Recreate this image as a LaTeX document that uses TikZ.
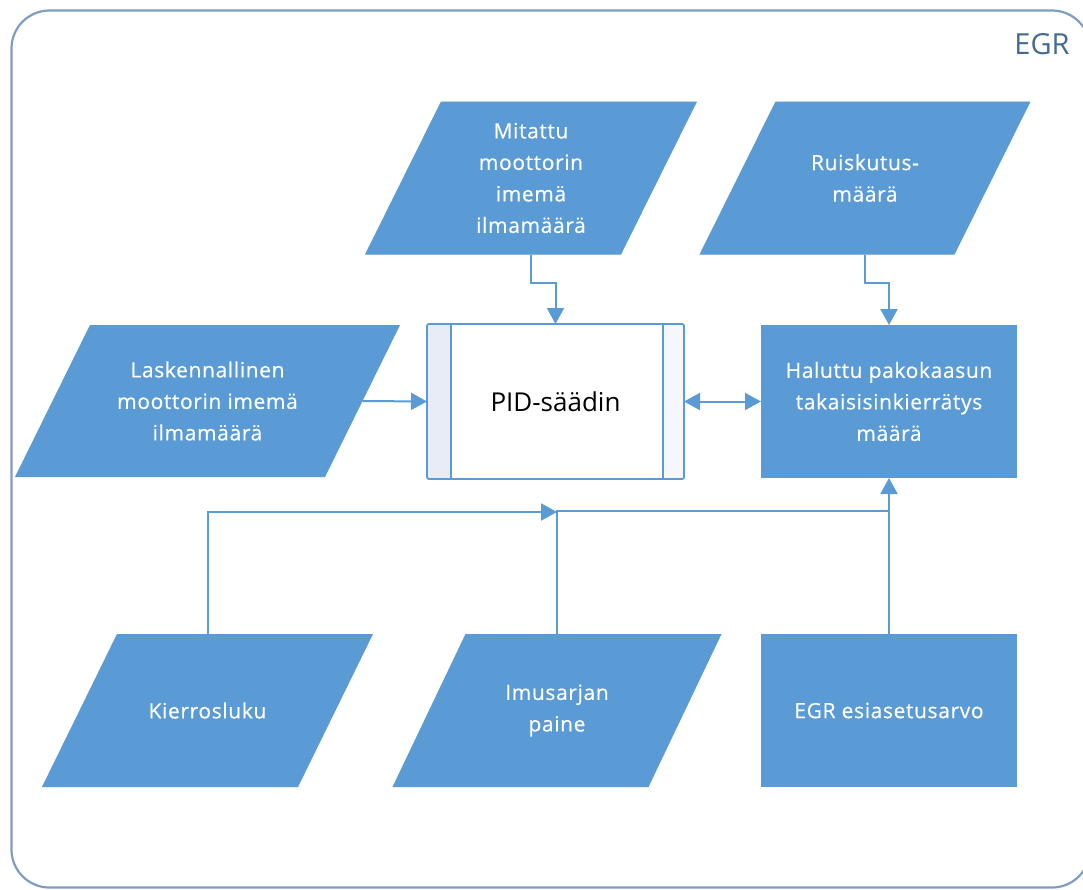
\documentclass[tikz,border=0pt]{standalone}
\usepackage{fontspec}
\setmainfont{Open Sans}
\newfontfamily\boxfont[LetterSpace=3,FakeBold=0.4]{Open Sans}
\usetikzlibrary{arrows.meta}
\pgfdeclarelayer{background}
\pgfsetlayers{background,main}
\definecolor{boxblue}{RGB}{91,155,213}
\definecolor{framecol}{RGB}{127,157,192}
\definecolor{titlecol}{RGB}{68,106,146}
\definecolor{stripL}{RGB}{232,236,247}
\definecolor{stripR}{RGB}{246,247,252}
\newcommand\parafill[2]{%
  \begin{pgfonlayer}{background}
  \fill[black,opacity=0.12,shift={(1,3)}] ([xshift=#2]#1.north west) -- ([xshift=#2]#1.north east) -- ([xshift=-#2]#1.south east) -- ([xshift=-#2]#1.south west) -- cycle;
  \fill[boxblue] ([xshift=#2]#1.north west) -- ([xshift=#2]#1.north east) -- ([xshift=-#2]#1.south east) -- ([xshift=-#2]#1.south west) -- cycle;
  \end{pgfonlayer}}
\tikzset{
  datanode/.style={text=white, align=center, inner sep=0pt, outer sep=0pt,
    minimum width=256pt, minimum height=153pt,
    font=\boxfont\fontsize{21}{31.5}\selectfont},
  conn/.style={draw=boxblue, line width=2pt},
  arr/.style={conn, -{Triangle[length=16pt,width=17pt]}},
  darr/.style={conn, {Triangle[length=16pt,width=17pt]}-{Triangle[length=16pt,width=17pt]}},
  pidbox/.style={inner sep=0pt, outer sep=0pt, minimum width=257pt, minimum height=155pt,
    font=\fontsize{26}{30}\selectfont, text=black},
  titlelabel/.style={text=titlecol, font=\fontsize{29}{32}\selectfont, inner sep=0pt}
}
\begin{document}
\begin{tikzpicture}[x=1pt,y=-1pt]
\useasboundingbox (0,0) rectangle (1083,889);
% frame
\draw[framecol, line width=2.2pt, rounded corners=38pt] (11.5,10.5) rectangle (1090,887.5);
\node[titlelabel] (title) at (1042,44) {EGR};

% nodes
\node[datanode] (mit) at (531,178) {Mitattu\\moottorin\\imemä\\ilmamäärä};
\node[datanode, minimum width=255pt] (rui) at (865,178) {Ruiskutus-\\määrä};
\node[datanode, minimum width=310pt, minimum height=152pt] (las) at (207.5,401) {Laskennallinen\\moottorin imemä\\ilmamäärä};
\node[pidbox] (pid) at (555.5,401.5) {PID-säädin};
\node[datanode] (hal) at (889,401.5) {Haluttu pakokaasun\\takaisisinkierrätys\\määrä};
\node[datanode] (kie) at (207.5,710.5) {Kierrosluku};
\node[datanode] (imu) at (557,710.5) {Imusarjan\\paine};
\node[datanode] (egr) at (889,710.5) {EGR esiasetusarvo};

\parafill{mit}{38pt}
\parafill{rui}{38pt}
\parafill{las}{37.5pt}
\parafill{hal}{0pt}
\parafill{kie}{37.5pt}
\parafill{imu}{36.5pt}
\parafill{egr}{0pt}

% PID box
\begin{pgfonlayer}{background}
\fill[white] (pid.north west) rectangle (pid.south east);
\fill[stripL] (pid.north west) rectangle ([xshift=24pt]pid.south west);
\fill[stripR] ([xshift=-21pt]pid.north east) rectangle (pid.south east);
\end{pgfonlayer}
\draw[boxblue, line width=1.8pt, rounded corners=2pt] (pid.north west) rectangle (pid.south east);
\draw[boxblue, line width=1.8pt] ([xshift=24pt]pid.north west) -- ([xshift=24pt]pid.south west);
\draw[boxblue, line width=1.8pt] ([xshift=-21pt]pid.north east) -- ([xshift=-21pt]pid.south east);

% connectors
\draw[arr] (mit.south) -- ++(0,28) -| (pid.north);
\draw[arr] (rui.south) -- ++(0,28) -| (hal.north);
\draw[arr] (las.east) -- (pid.west);
\draw[darr] (pid.east) -- (hal.west);
\coordinate (j1) at (imu.north |- 0,512);
\coordinate (j2) at (hal.south |- 0,510.5);
\draw[arr] (kie.north) |- (j1);
\draw[conn] (imu.north) |- (j2);
\draw[arr] (egr.north) -- (hal.south);
\end{tikzpicture}
\end{document}
